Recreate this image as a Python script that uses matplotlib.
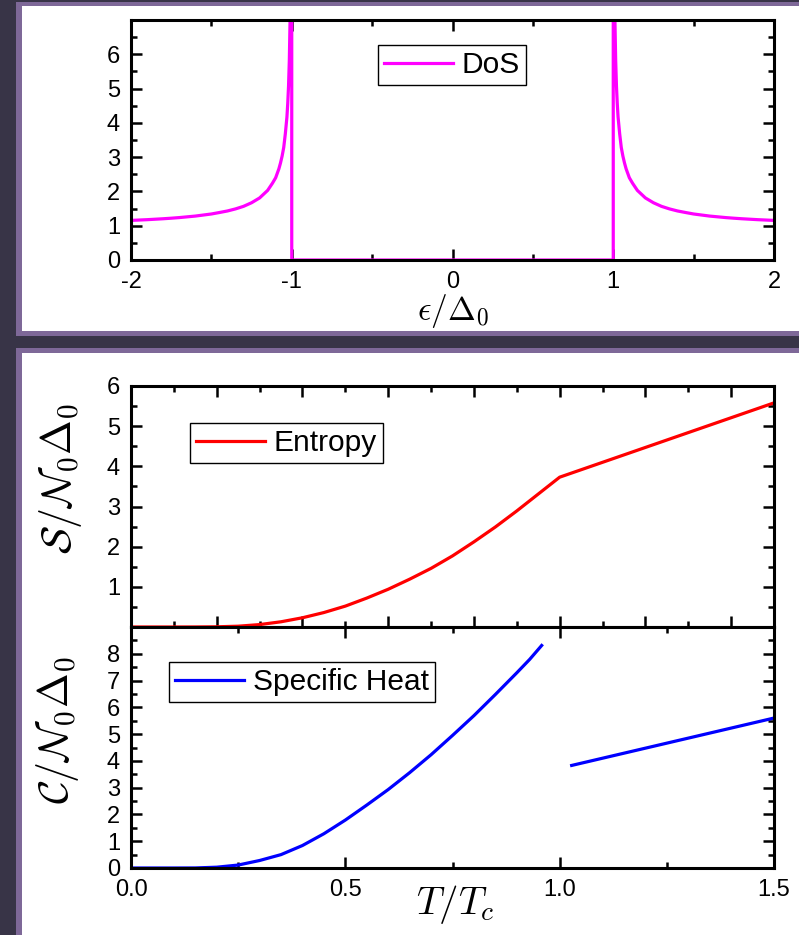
import matplotlib
matplotlib.use("Agg")
import matplotlib.pyplot as plt
from matplotlib.patches import Rectangle
from matplotlib.ticker import MultipleLocator

plt.rcParams['font.family'] = ['Liberation Sans', 'DejaVu Sans']
plt.rcParams['mathtext.fontset'] = 'cm'

# ---------------- data ----------------
eps_left = [-2.0, -1.9, -1.8, -1.75, -1.7, -1.6, -1.5, -1.45, -1.4, -1.35, -1.3,
            -1.25, -1.2, -1.15, -1.12, -1.1, -1.08, -1.07, -1.06, -1.05, -1.04,
            -1.03, -1.025, -1.02, -1.015, -1.01, -1.007, -1.005, -1.0, -1.0]
dos_left = [1.155, 1.176, 1.203, 1.219, 1.237, 1.281, 1.342, 1.385, 1.43, 1.49, 1.565,
            1.67, 1.81, 2.03, 2.24, 2.40, 2.66, 2.83, 3.03, 3.28, 3.68,
            4.17, 4.56, 5.07, 5.84, 7.12, 8.5, 10.0, 10.0, 0.0]
eps_gap = [-1.0, 1.0]
dos_gap = [0.0, 0.0]
eps_right = [1.0, 1.0, 1.005, 1.007, 1.01, 1.015, 1.02, 1.025, 1.03, 1.04, 1.05,
             1.06, 1.07, 1.08, 1.1, 1.12, 1.15, 1.2, 1.25, 1.3, 1.35, 1.4, 1.45,
             1.5, 1.6, 1.7, 1.75, 1.8, 1.9, 2.0]
dos_right = [0.0, 10.0, 10.0, 8.5, 7.12, 5.84, 5.07, 4.56, 4.17, 3.68, 3.28,
             3.03, 2.83, 2.66, 2.40, 2.24, 2.03, 1.81, 1.67, 1.565, 1.49, 1.43, 1.385,
             1.342, 1.281, 1.237, 1.219, 1.203, 1.176, 1.155]

t_entropy = [0.0, 0.1, 0.15, 0.2, 0.25, 0.3, 0.35, 0.4, 0.45, 0.5, 0.55, 0.6, 0.65,
             0.7, 0.75, 0.8, 0.85, 0.9, 0.95, 1.0, 1.5]
entropy = [0.0, 0.0, 0.001, 0.005, 0.02, 0.06, 0.13, 0.23, 0.36, 0.52, 0.72, 0.94, 1.19,
           1.46, 1.77, 2.12, 2.49, 2.89, 3.31, 3.73, 5.58]

t_heat_sc = [0.0, 0.1, 0.15, 0.2, 0.25, 0.3, 0.35, 0.4, 0.45, 0.5, 0.55, 0.6,
             0.65, 0.7, 0.75, 0.8, 0.85, 0.9, 0.93, 0.958]
heat_sc = [0.0, 0.0, 0.002, 0.03, 0.11, 0.28, 0.50, 0.84, 1.28, 1.79, 2.35, 2.93,
           3.56, 4.23, 4.95, 5.69, 6.48, 7.29, 7.79, 8.31]
t_heat_n = [1.028, 1.5]
heat_n = [3.83, 5.60]

# ---------------- figure ----------------
W, H = 799, 935
fig = plt.figure(figsize=(W / 100, H / 100), dpi=100)
fig.patch.set_facecolor('#383447')

def px_rect(x0, y0, x1, y1, color):
    fig.add_artist(Rectangle((x0 / W, 1 - y1 / H), (x1 - x0) / W, (y1 - y0) / H,
                             transform=fig.transFigure, facecolor=color,
                             edgecolor='none', zorder=-10))

# top panel frame
px_rect(16, 1.5, 820, 336, '#7e6898')
px_rect(22, 6, 820, 331, 'white')
# bottom panel frame
px_rect(16, 348, 820, 960, '#7e6898')
px_rect(22, 353, 820, 960, 'white')

def ax_px(x0, y0, x1, y1):
    return fig.add_axes([x0 / W, 1 - y1 / H, (x1 - x0) / W, (y1 - y0) / H])

TICK_FS = 17
LEG_FS = 21.5
LW_SPINE = 2.2

def style(ax):
    for s in ax.spines.values():
        s.set_linewidth(LW_SPINE)
    ax.tick_params(which='both', direction='in', top=True, right=True,
                   labelsize=TICK_FS, pad=8)
    ax.tick_params(which='major', length=8, width=1.8)
    ax.tick_params(which='minor', length=4, width=1.8)

def add_legend(ax, x, y):
    leg = ax.legend(loc='upper left', bbox_to_anchor=(x / W, 1 - y / H),
                    bbox_transform=fig.transFigure, fontsize=LEG_FS, frameon=True,
                    fancybox=False, edgecolor='black', framealpha=1, borderpad=0.2,
                    borderaxespad=0, handlelength=2.3, handletextpad=0.3)
    leg.get_frame().set_linewidth(1.0)

# ---- DoS ----
ax1 = ax_px(131, 20, 774, 260)
ax1.plot(eps_left + eps_gap + eps_right, dos_left + dos_gap + dos_right,
         color='#ff00ff', lw=2.3, label='DoS')
ax1.set_xlim(-2, 2)
ax1.set_ylim(0, 7)
ax1.xaxis.set_minor_locator(MultipleLocator(0.5))
ax1.yaxis.set_minor_locator(MultipleLocator(0.5))
ax1.set_yticks([0, 1, 2, 3, 4, 5, 6])
ax1.set_xticks([-2, -1, 0, 1, 2])
ax1.set_xticklabels(['-2', '-1', '0', '1', '2'])
style(ax1)
add_legend(ax1, 378, 45)
fig.text(453 / W, 1 - 311 / H, r'$\epsilon/\Delta_0$', fontsize=24,
         ha='center', va='center')

# ---- Entropy ----
ax2 = ax_px(131, 386, 774, 627)
ax2.plot(t_entropy, entropy, color='#ff0000', lw=2.3, label='Entropy')
ax2.set_xlim(0, 1.5)
ax2.set_ylim(0, 6)
ax2.xaxis.set_major_locator(MultipleLocator(0.2))
ax2.xaxis.set_minor_locator(MultipleLocator(0.1))
ax2.set_yticks([1, 2, 3, 4, 5, 6])
ax2.yaxis.set_minor_locator(MultipleLocator(0.5))
style(ax2)
ax2.tick_params(axis='x', labelbottom=False)
add_legend(ax2, 190, 423)
fig.text(60 / W, 1 - 478 / H, r'$\mathcal{S}/\mathcal{N}_0\Delta_0$', fontsize=30,
         ha='center', va='center', rotation=90)

# ---- Specific heat ----
ax3 = ax_px(131, 627, 774, 868)
ax3.plot(t_heat_sc, heat_sc, color='#0000ff', lw=2.3, label='Specific Heat')
ax3.plot(t_heat_n, heat_n, color='#0000ff', lw=2.3)
ax3.set_xlim(0, 1.5)
ax3.set_ylim(0, 9)
ax3.xaxis.set_minor_locator(MultipleLocator(0.25))
ax3.set_yticks([0, 1, 2, 3, 4, 5, 6, 7, 8])
ax3.yaxis.set_minor_locator(MultipleLocator(0.5))
ax3.set_xticks([0.0, 0.5, 1.0, 1.5])
ax3.set_xticklabels(['0.0', '0.5', '1.0', '1.5'])
style(ax3)
add_legend(ax3, 169, 662)
fig.text(58 / W, 1 - 730 / H, r'$\mathcal{C}/\mathcal{N}_0\Delta_0$', fontsize=30,
         ha='center', va='center', rotation=90)
fig.text(455 / W, 1 - 904 / H, r'$T/T_c$', fontsize=28,
         ha='center', va='center')

fig.savefig('out.png', dpi=100, facecolor=fig.get_facecolor())
